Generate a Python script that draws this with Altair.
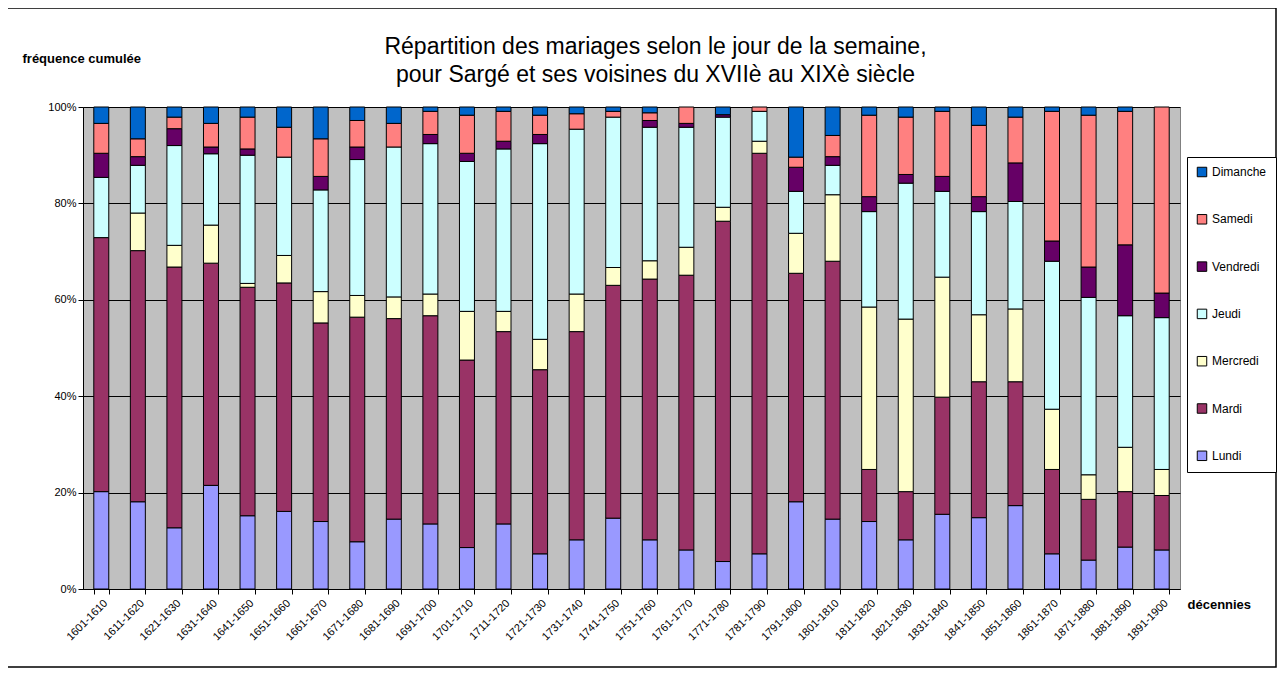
import altair as alt
import pandas as pd

decades = ["1601-1610", "1611-1620", "1621-1630", "1631-1640", "1641-1650",
           "1651-1660", "1661-1670", "1671-1680", "1681-1690", "1691-1700",
           "1701-1710", "1711-1720", "1721-1730", "1731-1740", "1741-1750",
           "1751-1760", "1761-1770", "1771-1780", "1781-1790", "1791-1800",
           "1801-1810", "1811-1820", "1821-1830", "1831-1840", "1841-1850",
           "1851-1860", "1861-1870", "1871-1880", "1881-1890", "1891-1900"]

days = ["Lundi", "Mardi", "Mercredi", "Jeudi", "Vendredi", "Samedi", "Dimanche"]
colors = ["#9999FF", "#993366", "#FFFFCC", "#CCFFFF", "#660066", "#FF8080", "#0066CC"]

lundi = [20.2, 18.1, 12.7, 21.5, 15.2, 16.1, 14.0, 9.8, 14.5, 13.5,
         8.6, 13.5, 7.3, 10.2, 14.7, 10.2, 8.1, 5.7, 7.3, 18.1,
         14.5, 14.0, 10.2, 15.5, 14.8, 17.3, 7.3, 6.0, 8.7, 8.1]
mardi = [52.7, 52.1, 54.1, 46.1, 47.4, 47.4, 41.2, 46.6, 41.6, 43.2,
         38.9, 39.9, 38.2, 43.2, 48.3, 54.1, 57.0, 70.6, 83.1, 47.4,
         53.5, 10.8, 10.0, 24.3, 28.2, 25.7, 17.5, 12.6, 11.5, 11.3]
mercredi = [0.0, 7.8, 4.5, 7.9, 0.8, 5.7, 6.5, 4.5, 4.5, 4.5,
            10.1, 4.2, 6.3, 7.8, 3.7, 3.8, 5.8, 2.9, 2.5, 8.3,
            13.8, 33.7, 35.8, 24.9, 13.9, 15.1, 12.5, 5.1, 9.2, 5.4]
jeudi = [12.5, 9.9, 20.7, 14.8, 26.6, 20.4, 21.1, 28.2, 31.1, 31.2,
         31.1, 33.7, 40.6, 34.2, 31.2, 27.7, 24.9, 18.7, 6.2, 8.7,
         6.1, 19.8, 28.2, 17.8, 21.4, 22.3, 30.7, 36.8, 27.3, 31.5]
vendredi = [5.0, 1.8, 3.5, 1.4, 1.3, 0.0, 2.8, 2.6, 0.0, 1.9,
            1.7, 1.6, 1.9, 0.0, 0.0, 1.4, 0.8, 0.5, 0.0, 5.0,
            1.8, 3.1, 1.8, 3.1, 3.1, 8.0, 4.2, 6.3, 14.7, 5.1]
samedi = [6.2, 3.7, 2.4, 4.9, 6.6, 6.2, 7.8, 5.5, 4.9, 4.8,
          7.9, 6.2, 4.0, 3.2, 1.2, 1.6, 3.4, 0.0, 0.9, 2.1,
          4.4, 16.9, 11.9, 13.5, 14.8, 9.5, 26.9, 31.5, 27.7, 38.6]
dimanche = [3.4, 6.6, 2.1, 3.4, 2.1, 4.2, 6.6, 2.8, 3.4, 0.9,
            1.7, 0.9, 1.7, 1.4, 0.9, 1.2, 0.0, 1.6, 0.0, 10.4,
            5.9, 1.7, 2.1, 0.9, 3.8, 2.1, 0.9, 1.7, 0.9, 0.0]

y_ticks = [0, 0.2, 0.4, 0.6, 0.8, 1.0]

series = [lundi, mardi, mercredi, jeudi, vendredi, samedi, dimanche]
rows = []
for di, (day, vals) in enumerate(zip(days, series)):
    for dec, v in zip(decades, vals):
        if v > 0:
            rows.append({"decennie": dec, "jour": day, "rang": di, "valeur": v})
df = pd.DataFrame(rows)

FONT = "Liberation Sans"

bars = alt.Chart(df).mark_bar(stroke="black", strokeWidth=1).encode(
    x=alt.X("decennie:N", sort=decades,
            scale=alt.Scale(paddingInner=0.59, paddingOuter=0.295),
            axis=alt.Axis(title="décennies", titleX=1104, titleY=15,
                          titleAlign="left", titleBaseline="middle",
                          titleFontSize=13, titleFontWeight="bold",
                          labelAngle=-45, labelFontSize=11, labelColor="black",
                          labelPadding=3, tickBand="extent", tickSize=5,
                          tickColor="black", domainColor="black",
                          labelFont=FONT, titleFont=FONT)),
    y=alt.Y("valeur:Q", stack="normalize",
            scale=alt.Scale(domain=[0, 1], nice=False),
            axis=alt.Axis(title="fréquence cumulée", titleAngle=0,
                          titleX=-61, titleY=-49, titleAlign="left",
                          titleBaseline="middle", titleFontSize=13,
                          titleFontWeight="bold", values=y_ticks, format=".0%",
                          labelFontSize=11, labelColor="black", tickSize=5,
                          tickColor="black", domainColor="black",
                          gridColor="black", gridWidth=1,
                          labelFont=FONT, titleFont=FONT)),
    color=alt.Color("jour:N",
                    scale=alt.Scale(domain=days[::-1], range=colors[::-1]),
                    legend=alt.Legend(title=None, orient="none",
                                      legendX=1104, legendY=50,
                                      symbolType="square", symbolSize=90,
                                      symbolStrokeColor="black",
                                      symbolStrokeWidth=1,
                                      labelFontSize=12, labelFont=FONT,
                                      labelColor="black",
                                      rowPadding=33.3, padding=9,
                                      strokeColor="black", fillColor="white",
                                      labelOffset=4)),
    order=alt.Order("rang:Q", sort="ascending"),
)

border = alt.Chart(alt.Data(values=[{}])).mark_rect(
    fill=None, fillOpacity=0, stroke="black", strokeWidth=1.5
).encode(
    x=alt.value(-76), x2=alt.value(1193),
    y=alt.value(-99), y2=alt.value(560),
)

chart = alt.layer(bars, border).properties(
    width=1097, height=482,
    title=alt.TitleParams(
        text=["Répartition des mariages selon le jour de la semaine,",
              "pour Sargé et ses voisines du XVIIè au XIXè siècle"],
        fontSize=23, font=FONT, fontWeight="normal", color="black",
        anchor="middle", dx=24, offset=-80, lineHeight=28),
    autosize=alt.AutoSizeParams(type="none"),
    padding={"left": 75, "top": 99, "right": 98, "bottom": 81},
    background="white",
).configure_view(
    fill="#C0C0C0", stroke="#808080", strokeWidth=1
).configure_axis(grid=False).configure_axisY(grid=True)

chart.save("out.html", embed_options={"renderer": "svg", "actions": False})
